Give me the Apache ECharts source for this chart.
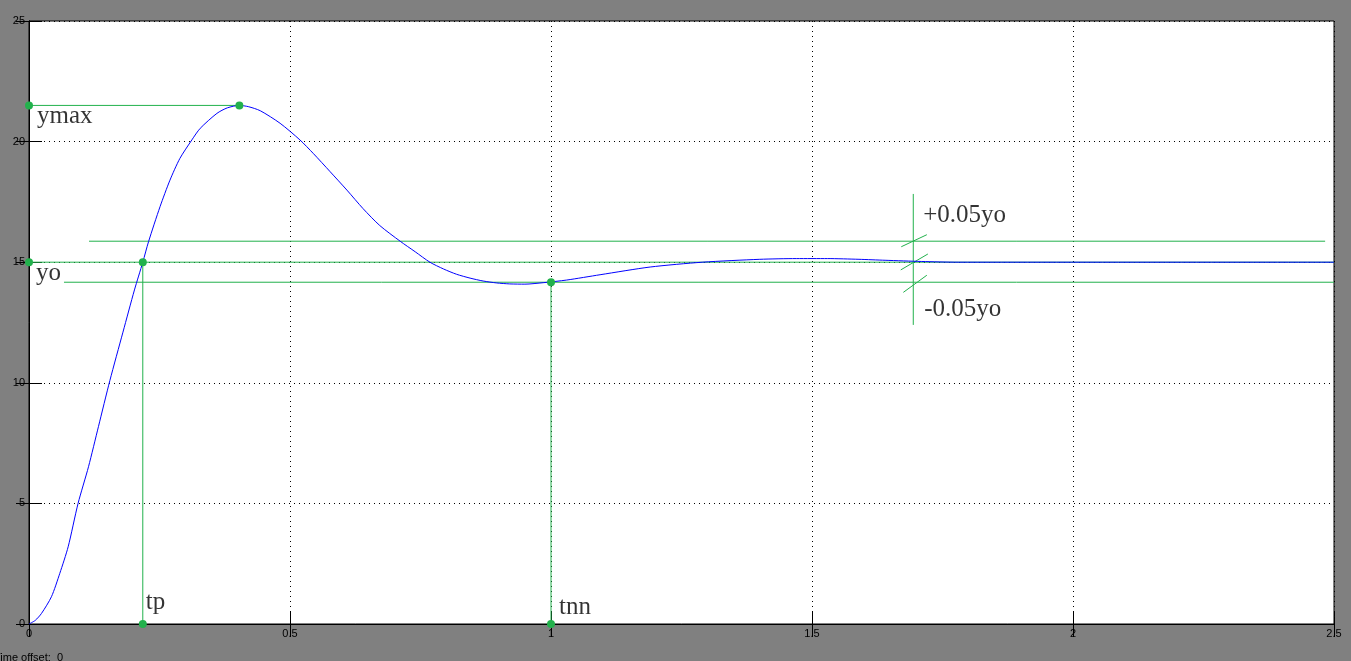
<!DOCTYPE html>
<html>
<head>
<meta charset="utf-8">
<script src="https://cdn.jsdelivr.net/npm/echarts@6/dist/echarts.min.js"></script>
<style>
html,body{margin:0;padding:0;background:#808080;}
#c{width:1351px;height:661px;}
</style>
</head>
<body>
<div id="c"></div>
<script>
// ---- data ----
const timeValues = [0, 0.012, 0.024, 0.043, 0.059, 0.075, 0.094, 0.114, 0.133, 0.155, 0.18, 0.202, 0.218, 0.229, 0.251, 0.270, 0.289, 0.312, 0.328, 0.360, 0.380, 0.403, 0.420, 0.443, 0.481, 0.519, 0.545, 0.577, 0.609, 0.640, 0.672, 0.711, 0.740, 0.768, 0.794, 0.819, 0.845, 0.870, 0.896, 0.921, 0.950, 0.985, 1.03, 1.094, 1.19, 1.29, 1.40, 1.47, 1.53, 1.59, 1.64, 1.71, 1.78, 2.5];
const responseValues = [0, 0.15, 0.44, 1.13, 2.1, 3.2, 5.0, 6.52, 8.18, 10.1, 12.1, 13.85, 15.0, 15.85, 17.3, 18.4, 19.3, 20.07, 20.55, 21.17, 21.4, 21.5, 21.45, 21.28, 20.76, 20.07, 19.5, 18.75, 17.99, 17.22, 16.52, 15.87, 15.43, 15.0, 14.72, 14.50, 14.34, 14.22, 14.14, 14.10, 14.09, 14.15, 14.26, 14.48, 14.80, 15.0, 15.12, 15.15, 15.15, 15.12, 15.08, 15.03, 15.0, 15.0];

const yMax = 21.5, tMax = 0.403;
const yo = 15.0, tp = 0.218;
const tnn = 1.0, yLow = 14.17, yHigh = 15.87;
const upperBandRange = [0.115, 2.483];
const lowerBandRange = [0.067, 2.5];
const markerT = 1.694, markerRange = [12.4, 17.83];
const slashTicks = [
  [[1.671, 15.64], [1.720, 16.14]],
  [[1.670, 14.68], [1.722, 15.34]],
  [[1.675, 13.75], [1.720, 14.46]]
];
const xTickLabels = ['0', '0.5', '1', '1.5', '2', '2.5'];
const yTickLabels = ['0', '5', '10', '15', '20', '25'];
const keyPoints = [[0, yMax], [tMax, yMax], [0, yo], [tp, yo], [tp, 0], [tnn, yLow], [tnn, 0]];
const annotationTexts = ['ymax', 'yo', 'tp', 'tnn', '+0.05yo', '-0.05yo'];
const annotationAnchors = [[0, yMax], [0, yo], [tp, 0], [tnn, 0], [markerT, markerRange[1]], [markerT, markerRange[0]]];

// ---- chart ----
const GREEN = '#22b14c';
const annOffsets = [[8, 11], [7, 11], [3, -22], [8, -17], [10, 21], [11, -15]];
const chart = echarts.init(document.getElementById('c'), null, {renderer: 'canvas'});

function seg(a, b, color) {
  return {type: 'line', data: [a, b], symbol: 'none', silent: true, animation: false,
    lineStyle: {color: color || GREEN, width: 1}, z: 2, clip: false};
}

const axisFont = {fontFamily: 'Liberation Sans', fontSize: 11, color: '#000'};
const gridLine = {show: true, lineStyle: {color: '#000', type: [1, 4], width: 1}};

const series = [
  seg([0, yMax], [tMax, yMax]),
  seg([0, yo], [2.5, yo]),
  seg([tp, yo], [tp, 0]),
  seg([tnn, yLow], [tnn, 0]),
  seg([upperBandRange[0], yHigh], [upperBandRange[1], yHigh]),
  seg([lowerBandRange[0], yLow], [lowerBandRange[1], yLow]),
  seg([markerT, markerRange[0]], [markerT, markerRange[1]]),
  ...slashTicks.map(s => seg(s[0], s[1])),
  {type: 'line', data: timeValues.map((t, i) => [t, responseValues[i]]), symbol: 'none',
    smooth: 0.25, animation: false, lineStyle: {color: '#0000ff', width: 1}, z: 3},
  {type: 'scatter', data: keyPoints, symbolSize: 8, itemStyle: {color: GREEN, opacity: 1},
    animation: false, z: 5, clip: false},
  {type: 'scatter', animation: false, z: 6, clip: false, symbolSize: 1, silent: true,
    data: annotationAnchors.map((p, i) => ({
      value: p,
      label: {show: true, formatter: annotationTexts[i], position: 'inside', align: 'left',
        verticalAlign: 'middle', offset: annOffsets[i],
        fontFamily: 'Liberation Serif', fontSize: 25, color: '#000'}
    })),
    itemStyle: {color: 'rgba(0,0,0,0)'}
  }
];

chart.setOption({
  backgroundColor: '#808080',
  animation: false,
  grid: {left: 29, right: 17, top: 21, bottom: 37, show: true, backgroundColor: '#fff',
    borderColor: '#000', borderWidth: 1, containLabel: false, outerBoundsMode: 'none'},
  xAxis: [
    {type: 'value', min: 0, max: 2.5, interval: 0.5, position: 'bottom',
      axisLine: {show: true, lineStyle: {color: '#000'}},
      axisTick: {show: true, inside: true, length: 13, lineStyle: {color: '#000'}},
      axisLabel: Object.assign({margin: 4, formatter: (v) => xTickLabels[Math.round(v / 0.5)]}, axisFont),
      splitLine: gridLine},
    {type: 'value', min: 0, max: 2.5, interval: 0.5, position: 'top',
      axisLine: {show: true, lineStyle: {color: '#000'}},
      axisTick: {show: true, inside: true, length: 13, lineStyle: {color: '#000'}},
      axisLabel: {show: false}, splitLine: {show: false}}
  ],
  yAxis: [
    {type: 'value', min: 0, max: 25, interval: 5, position: 'left',
      axisLine: {show: true, lineStyle: {color: '#000'}},
      axisTick: {show: true, inside: true, length: 13, lineStyle: {color: '#000'}},
      axisLabel: Object.assign({margin: 4, formatter: (v) => yTickLabels[Math.round(v / 5)]}, axisFont),
      splitLine: gridLine},
    {type: 'value', min: 0, max: 25, interval: 5, position: 'right',
      axisLine: {show: true, lineStyle: {color: '#000'}},
      axisTick: {show: true, inside: true, length: 13, lineStyle: {color: '#000'}},
      axisLabel: {show: false}, splitLine: {show: false}}
  ],
  graphic: [{type: 'text', left: -6, top: 652,
    style: {text: 'Time offset:  0', fontFamily: 'Liberation Sans', fontSize: 11, fill: '#000'}}],
  series: series
});
</script>
</body>
</html>
